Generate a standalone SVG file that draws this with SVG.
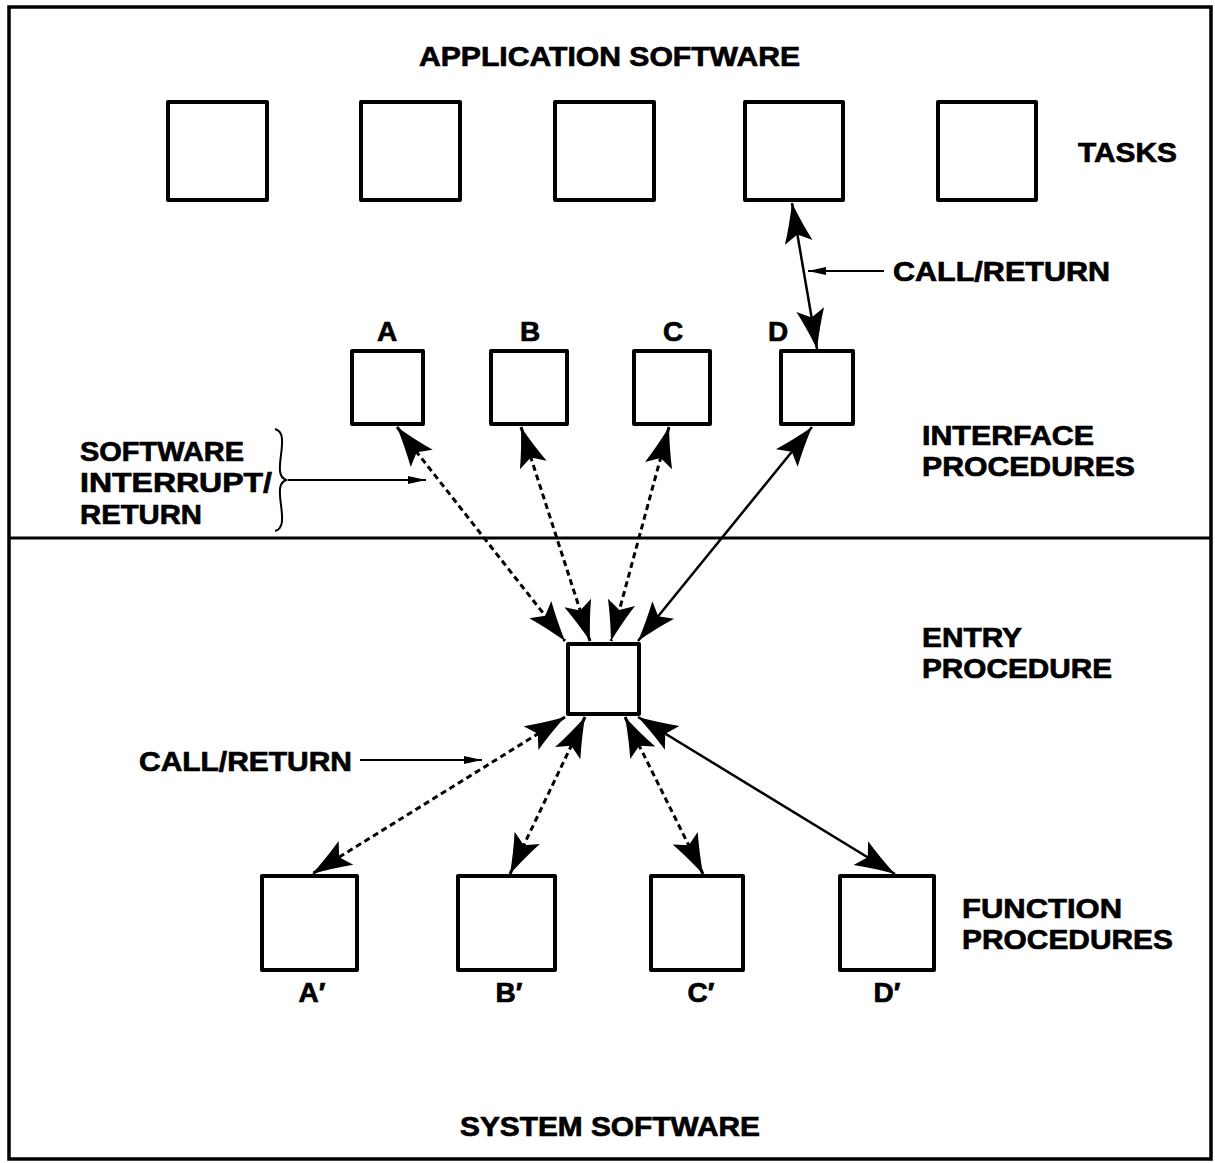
<svg xmlns="http://www.w3.org/2000/svg" width="1215" height="1163" viewBox="0 0 1215 1163">
  <style>
    .box { fill: #fff; stroke: #000; stroke-width: 4; stroke-linejoin: round; }
    .frame { fill: none; stroke: #000; stroke-width: 3.5; }
    .lbl { font-family: "Liberation Sans", Arial, Helvetica, sans-serif; font-weight: bold; font-size: 28px; fill: #000; stroke: #000; stroke-width: 0.7; }
    .link { fill: none; stroke: #000; stroke-width: 2.5; }
    .dot { stroke-dasharray: 6 4; stroke-width: 3; }
    .ptr { fill: none; stroke: #000; stroke-width: 2; }
  </style>
  <defs>
    <marker id="head" markerUnits="userSpaceOnUse" markerWidth="46" markerHeight="34" viewBox="-43 -17 46 34" refX="0" refY="0" orient="auto-start-reverse">
      <path d="M0,0 Q-22,6.5 -40,14 L-32,0 L-40,-14 Q-22,-6.5 0,0 Z" fill="#000"/>
    </marker>
    <marker id="tip" markerUnits="userSpaceOnUse" markerWidth="22" markerHeight="12" viewBox="-20 -6 22 12" refX="0" refY="0" orient="auto">
      <path d="M0,0 L-18,-4 L-18,4 Z" fill="#000"/>
    </marker>
  </defs>

  <!-- outer frame and layer divider -->
  <rect class="frame" x="9" y="7" width="1202" height="1152"/>
  <line x1="9" y1="538" x2="1211" y2="538" stroke="#000" stroke-width="3"/>

  <!-- layer titles and side captions -->
  <g id="captions">
    <text class="lbl" x="419" y="66" textLength="381" lengthAdjust="spacingAndGlyphs">APPLICATION SOFTWARE</text>
    <text class="lbl" x="1078" y="162" textLength="99" lengthAdjust="spacingAndGlyphs">TASKS</text>
    <text class="lbl" x="922" y="445" textLength="172" lengthAdjust="spacingAndGlyphs">INTERFACE</text>
    <text class="lbl" x="922" y="476" textLength="213" lengthAdjust="spacingAndGlyphs">PROCEDURES</text>
    <text class="lbl" x="922" y="647" textLength="100" lengthAdjust="spacingAndGlyphs">ENTRY</text>
    <text class="lbl" x="922" y="678" textLength="190" lengthAdjust="spacingAndGlyphs">PROCEDURE</text>
    <text class="lbl" x="962" y="918" textLength="160" lengthAdjust="spacingAndGlyphs">FUNCTION</text>
    <text class="lbl" x="962" y="949" textLength="211" lengthAdjust="spacingAndGlyphs">PROCEDURES</text>
    <text class="lbl" x="460" y="1136" textLength="300" lengthAdjust="spacingAndGlyphs">SYSTEM SOFTWARE</text>
    <text class="lbl" x="893" y="281" textLength="217" lengthAdjust="spacingAndGlyphs">CALL/RETURN</text>
    <text class="lbl" x="139" y="771" textLength="213" lengthAdjust="spacingAndGlyphs">CALL/RETURN</text>
    <text class="lbl" x="80" y="461" textLength="164" lengthAdjust="spacingAndGlyphs">SOFTWARE</text>
    <text class="lbl" x="80" y="492" textLength="192" lengthAdjust="spacingAndGlyphs">INTERRUPT/</text>
    <text class="lbl" x="80" y="524" textLength="122" lengthAdjust="spacingAndGlyphs">RETURN</text>
  </g>

  <!-- tasks -->
  <g id="task1"><rect class="box" x="168" y="102" width="99" height="98"/></g>
  <g id="task2"><rect class="box" x="361" y="102" width="99" height="98"/></g>
  <g id="task3"><rect class="box" x="555" y="102" width="99" height="98"/></g>
  <g id="task4"><rect class="box" x="745" y="102" width="98" height="98"/></g>
  <g id="task5"><rect class="box" x="938" y="102" width="98" height="98"/></g>

  <!-- interface procedures -->
  <g id="ifA"><rect class="box" x="352" y="351" width="71" height="73"/><text class="lbl" x="387" y="341" text-anchor="middle">A</text></g>
  <g id="ifB"><rect class="box" x="491" y="351" width="76" height="73"/><text class="lbl" x="530" y="341" text-anchor="middle">B</text></g>
  <g id="ifC"><rect class="box" x="634" y="351" width="76" height="73"/><text class="lbl" x="673" y="341" text-anchor="middle">C</text></g>
  <g id="ifD"><rect class="box" x="781" y="351" width="72" height="73"/><text class="lbl" x="778" y="341" text-anchor="middle">D</text></g>

  <!-- entry procedure -->
  <g id="entry"><rect class="box" x="568" y="644" width="71" height="70"/></g>

  <!-- function procedures -->
  <g id="fnA"><rect class="box" x="262" y="876" width="95" height="94"/><text class="lbl" x="312" y="1002" text-anchor="middle">A′</text></g>
  <g id="fnB"><rect class="box" x="458" y="876" width="97" height="94"/><text class="lbl" x="509" y="1002" text-anchor="middle">B′</text></g>
  <g id="fnC"><rect class="box" x="651" y="876" width="92" height="94"/><text class="lbl" x="701" y="1002" text-anchor="middle">C′</text></g>
  <g id="fnD"><rect class="box" x="840" y="876" width="94" height="94"/><text class="lbl" x="887" y="1002" text-anchor="middle">D′</text></g>

  <!-- connectors -->
  <g id="connectors">
    <line class="link" x1="792" y1="203" x2="817" y2="349" marker-start="url(#head)" marker-end="url(#head)"/>
    <line class="link dot" x1="397" y1="427" x2="565" y2="641" marker-start="url(#head)" marker-end="url(#head)"/>
    <line class="link dot" x1="521" y1="427" x2="590" y2="641" marker-start="url(#head)" marker-end="url(#head)"/>
    <line class="link dot" x1="669" y1="427" x2="611" y2="641" marker-start="url(#head)" marker-end="url(#head)"/>
    <line class="link" x1="812" y1="427" x2="638" y2="641" marker-start="url(#head)" marker-end="url(#head)"/>
    <line class="link dot" x1="565" y1="717" x2="312" y2="874" marker-start="url(#head)" marker-end="url(#head)"/>
    <line class="link dot" x1="585" y1="717" x2="510" y2="874" marker-start="url(#head)" marker-end="url(#head)"/>
    <line class="link dot" x1="625" y1="717" x2="703" y2="874" marker-start="url(#head)" marker-end="url(#head)"/>
    <line class="link" x1="638" y1="717" x2="895" y2="874" marker-start="url(#head)" marker-end="url(#head)"/>

    <!-- label pointers -->
    <line class="ptr" x1="884" y1="271" x2="808" y2="271" marker-end="url(#tip)"/>
    <line class="ptr" x1="360" y1="760" x2="482" y2="760" marker-end="url(#tip)"/>
    <line class="ptr" x1="288" y1="480" x2="426" y2="480" marker-end="url(#tip)"/>
    <path class="ptr" d="M275,429 C283,431 283,440 281,455 C279,470 279,477 286,480 C279,483 279,490 281,505 C283,520 283,529 275,531"/>
  </g>
</svg>
